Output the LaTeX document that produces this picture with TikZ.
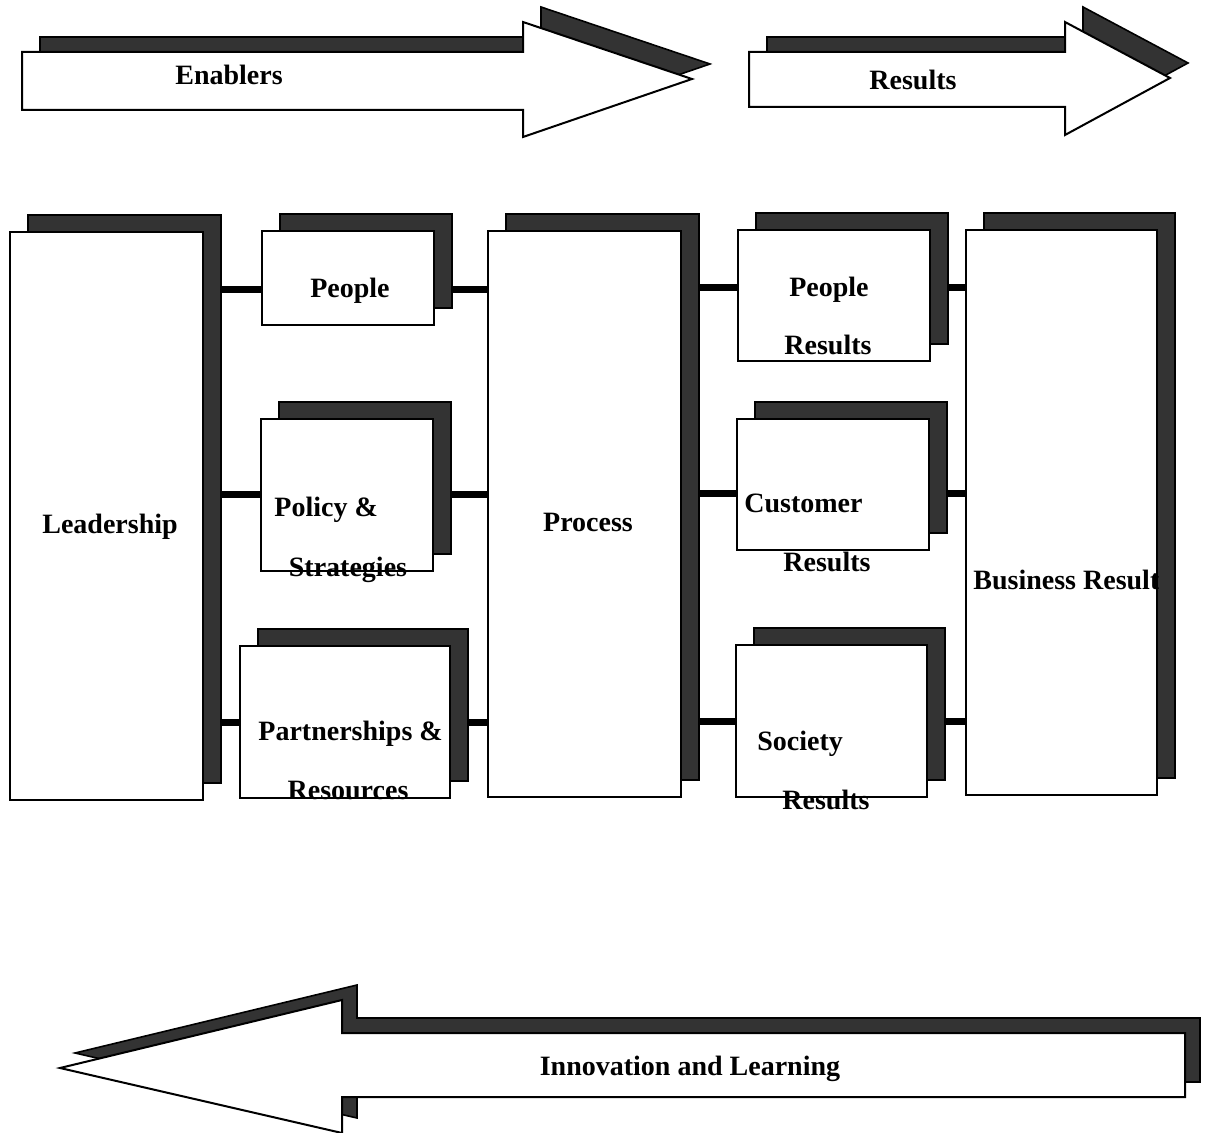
\documentclass[tikz,border=0pt]{standalone}
\usepackage{fontspec}
\setmainfont{Liberation Serif}
\usetikzlibrary{positioning, shadows, backgrounds}
\tikzset{
    every node/.style={font=\fontsize{14}{16}\selectfont\bfseries, inner sep=0pt},
    shade/.style={fill=black!80, draw=black, line width=0.8pt},
    bigarrow/.style={fill=white, draw=black, line width=1pt},
    box/.style={draw=black, fill=white, line width=1pt,
        general shadow={fill=black!80, draw=black, line width=0.6pt, shadow xshift=9pt, shadow yshift=8.5pt}},
    link/.style={line width=3.5pt, black},
    txt/.style={anchor=base}
}

\begin{document}
\begin{tikzpicture}[x=0.5pt, y=-0.5pt]
    \useasboundingbox (0,0) rectangle (1210,1133);

    % direction arrows
    \path[shade, shift={(18,-15)}] (22,52) -- (523,52) -- (523,22) -- (692,79) -- (523,137) -- (523,110) -- (22,110) -- cycle;
    \path[bigarrow] (22,52) -- (523,52) -- (523,22) -- (692,79) -- (523,137) -- (523,110) -- (22,110) -- cycle;
    \node[txt] (enablers) at (229,85) {Enablers};

    \path[shade, shift={(18,-15)}] (749,52) -- (1065,52) -- (1065,22) -- (1170,78) -- (1065,135) -- (1065,107) -- (749,107) -- cycle;
    \path[bigarrow] (749,52) -- (1065,52) -- (1065,22) -- (1170,78) -- (1065,135) -- (1065,107) -- (749,107) -- cycle;
    \node[txt] (results) at (913,90) {Results};

    \path[shade, shift={(15,-15)}] (1185,1033) -- (342,1033) -- (342,1000) -- (60,1068) -- (342,1133) -- (342,1097) -- (1185,1097) -- cycle;
    \path[bigarrow] (1185,1033) -- (342,1033) -- (342,1000) -- (60,1068) -- (342,1133) -- (342,1097) -- (1185,1097) -- cycle;
    \node[txt] (innovation) at (690,1075) {Innovation and Learning};

    % criteria boxes
    \node[box, minimum width=96.5pt, minimum height=284pt] (lead) at (106.5,516) {};
    \node[box, minimum width=86pt, minimum height=47pt] (people) at (348,278) {};
    \node[box, minimum width=86pt, minimum height=76pt] (policy) at (347,495) {};
    \node[box, minimum width=105pt, minimum height=76pt] (partner) at (345,722) {};
    \node[box, minimum width=96.5pt, minimum height=283pt] (process) at (584.5,514) {};
    \node[box, minimum width=96pt, minimum height=65.5pt] (peopleres) at (834,295.5) {};
    \node[box, minimum width=96pt, minimum height=65.5pt] (custres) at (833,484.5) {};
    \node[box, minimum width=95.5pt, minimum height=76pt] (socres) at (831.5,721) {};
    \node[box, minimum width=95.5pt, minimum height=282.5pt] (business) at (1061.5,512.5) {};

    % links
    \begin{scope}[on background layer]
        \fill[white] (0,0) rectangle (1210,1133);
        \draw[link] (lead.east |- 0,290) -- (people.west |- 0,290);
        \draw[link] (people.east |- 0,290) -- (process.west |- 0,290);
        \draw[link] (lead.east |- 0,495) -- (policy.west |- 0,495);
        \draw[link] (policy.east |- 0,495) -- (process.west |- 0,495);
        \draw[link] (lead.east |- 0,722) -- (partner.west |- 0,722);
        \draw[link] (partner.east |- 0,722) -- (process.west |- 0,722);
        \draw[link] (process.east |- 0,288) -- (peopleres.west |- 0,288);
        \draw[link] (peopleres.east |- 0,288) -- (business.west |- 0,288);
        \draw[link] (process.east |- 0,494) -- (custres.west |- 0,494);
        \draw[link] (custres.east |- 0,494) -- (business.west |- 0,494);
        \draw[link] (process.east |- 0,721) -- (socres.west |- 0,721);
        \draw[link] (socres.east |- 0,721) -- (business.west |- 0,721);
    \end{scope}

    % box texts
    \node[txt] (leadtxt) at (110,534) {Leadership};
    \node[txt] (peopletxt) at (350,298) {People};
    \node[txt, anchor=base west] (policytxt) at (274,517) {Policy \&};
    \node[txt] (strattxt) at (348,577) {Strategies};
    \node[txt, anchor=base west] (partnertxt) at (258,740) {Partnerships \&};
    \node[txt] (resourcetxt) at (348,799) {Resources};
    \node[txt] (processtxt) at (588,532) {Process};
    \node[txt] (peopleres1) at (829,297) {People};
    \node[txt] (peopleres2) at (828,355) {Results};
    \node[txt, anchor=base west] (custres1) at (744,513) {Customer};
    \node[txt] (custres2) at (827,572) {Results};
    \node[txt, anchor=base west] (socres1) at (757,750) {Society};
    \node[txt] (socres2) at (826,809) {Results};
    \begin{scope}
        \clip (business.south west) rectangle (business.north east);
        \node[txt, anchor=base west] (businesstxt) at (973,590) {Business Results};
    \end{scope}
\end{tikzpicture}
\end{document}
